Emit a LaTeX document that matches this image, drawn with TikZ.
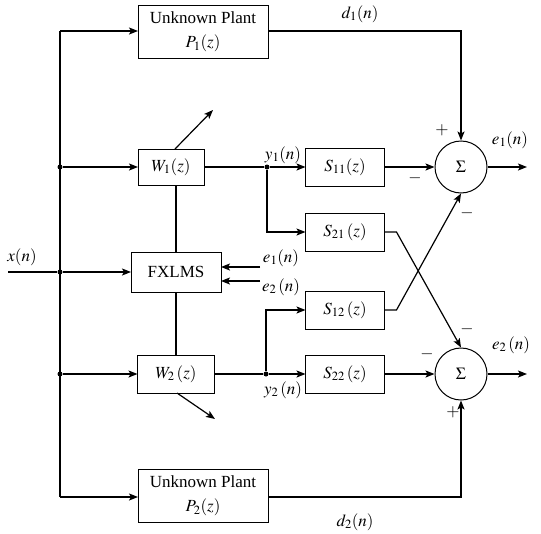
\documentclass[tikz,border=0pt]{standalone}
\usepackage{mathptmx}
\usepackage[no-math]{fontspec}
\setmainfont{Liberation Serif}
\usetikzlibrary{positioning, arrows.meta, calc}

\begin{document}
\begin{tikzpicture}[x=1pt, y=-1pt, >={Stealth[length=9pt, width=7pt, inset=2pt]},
          font=\fontsize{17}{21}\selectfont, line width=1.2pt,
          blk/.style={draw, line width=1pt, inner sep=0pt, outer sep=0pt, align=center},
          sbox/.style={blk, minimum width=79pt, minimum height=38pt},
          plant/.style={blk, minimum width=130pt, minimum height=53pt},
          sum/.style={draw, circle, line width=1pt, minimum size=52pt, inner sep=0pt},
          dot/.style={circle, fill, inner sep=0pt, minimum size=5pt},
          lbl/.style={inner sep=1pt}]
        \useasboundingbox (0,0) rectangle (541,533);
        % blocks
        \node[plant] (P1) at (203,32) {Unknown Plant\\[3pt]$P_1(z)$};
        \node[blk, minimum width=66pt, minimum height=36pt] (W1) at (171,167) {$W_1(z)$};
        \node[blk, minimum width=90pt, minimum height=40pt] (fx) at (176,272) {FXLMS};
        \node[blk, minimum width=77pt, minimum height=38pt] (W2) at (176,374) {$W_2\,(z)$};
        \node[plant] (P2) at (203,496) {Unknown Plant\\[3pt]$P_2(z)$};
        \node[sbox] (S11) at (345,167) {$S_{11}(z)$};
        \node[sbox, below=27pt of S11] (S21) {$S_{21}\,(z)$};
        \node[sbox, below=40pt of S21] (S12) {$S_{12}\,(z)$};
        \node[sbox, below=26pt of S12] (S22) {$S_{22}\,(z)$};
        \node[sum] (sum1) at (461,167) {$\Sigma$};
        \node[sum] (sum2) at (461,374) {$\Sigma$};
        % junctions
        \coordinate (xin) at (8,272);
        \coordinate (btop) at (60,31);
        \coordinate (bbot) at (60,497);
        \node[dot] (dx) at (60,272) {};
        \node[dot] (dw1) at (60,167) {};
        \node[dot] (dw2) at (60,374) {};
        \node[dot] (dy1) at (267,167) {};
        \node[dot] (dy2) at (266,374) {};
        \coordinate (o1) at (527,167);
        \coordinate (o2) at (527,374);
        \coordinate (e1s) at (260,267);
        \coordinate (e2s) at (260,281);
        % reference input
        \draw (xin) -- (dx);
        \draw (btop) -- (bbot);
        \draw[->] (dx) -- (fx);
        \draw[->] (btop) -- (btop -| P1.west);
        \draw[->] (bbot) -- (bbot -| P2.west);
        \draw[->] (dw1) -- (W1);
        \draw[->] (dw2) -- (W2);
        \draw (fx.north) -- (fx.north |- W1.south);
        \draw (fx.south) -- (fx.south |- W2.north);
        \draw[->] ($(W1.north)+(4,0)$) -- ++(38,-39);
        \draw[->] ($(W2.south)+(1,0)$) -- ++(38,26);
        % secondary paths
        \draw (W1) -- (dy1);
        \draw (W2) -- (dy2);
        \draw[->] (dy1) -- (S11);
        \draw[->] (dy1) |- (S21);
        \draw[->] (dy2) -- (S22);
        \draw[->] (dy2) |- (S12);
        \draw[->] (S11) -- (sum1);
        \draw[->] (S22) -- (sum2);
        \draw[->] (S21.east) -- ++(12,0) -- (sum2.north);
        \draw[->] (S12.east) -- ++(12,0) -- (sum1.south);
        \draw[->] (btop -| P1.east) -| (sum1);
        \draw[->] (bbot -| P2.east) -| (sum2);
        \draw[->] (sum1) -- (o1);
        \draw[->] (sum2) -- (o2);
        \draw[->] (e1s) -- (e1s -| fx.east);
        \draw[->] (e2s) -- (e2s -| fx.east);
        % labels
        \node[lbl] (lx) at (22,257) {$x(n)$};
        \node[lbl] (ld1) at (360,14) {$d_1(n)$};
        \node[lbl] (ld2) at (355,522) {$d_2(n)$};
        \node[lbl] (lo1) at (510,140) {$e_1(n)$};
        \node[lbl] (lo2) at (511,345) {$e_2\,(n)$};
        \node[lbl] (ly1) at (283,155) {$y_1(n)$};
        \node[lbl] (ly2) at (283,390) {$y_2\,(n)$};
        \node[lbl] (le1) at (281,258) {$e_1(n)$};
        \node[lbl] (le2) at (281,287) {$e_2\,(n)$};
        \node[lbl] (p1) at (442,130) {$+$};
        \node[lbl] (m1) at (415,178) {$-$};
        \node[lbl] (m2) at (467,213) {$-$};
        \node[lbl] (m3) at (467,329) {$-$};
        \node[lbl] (m4) at (427,354) {$-$};
        \node[lbl] (p2) at (453,412) {$+$};
\end{tikzpicture}
\end{document}
